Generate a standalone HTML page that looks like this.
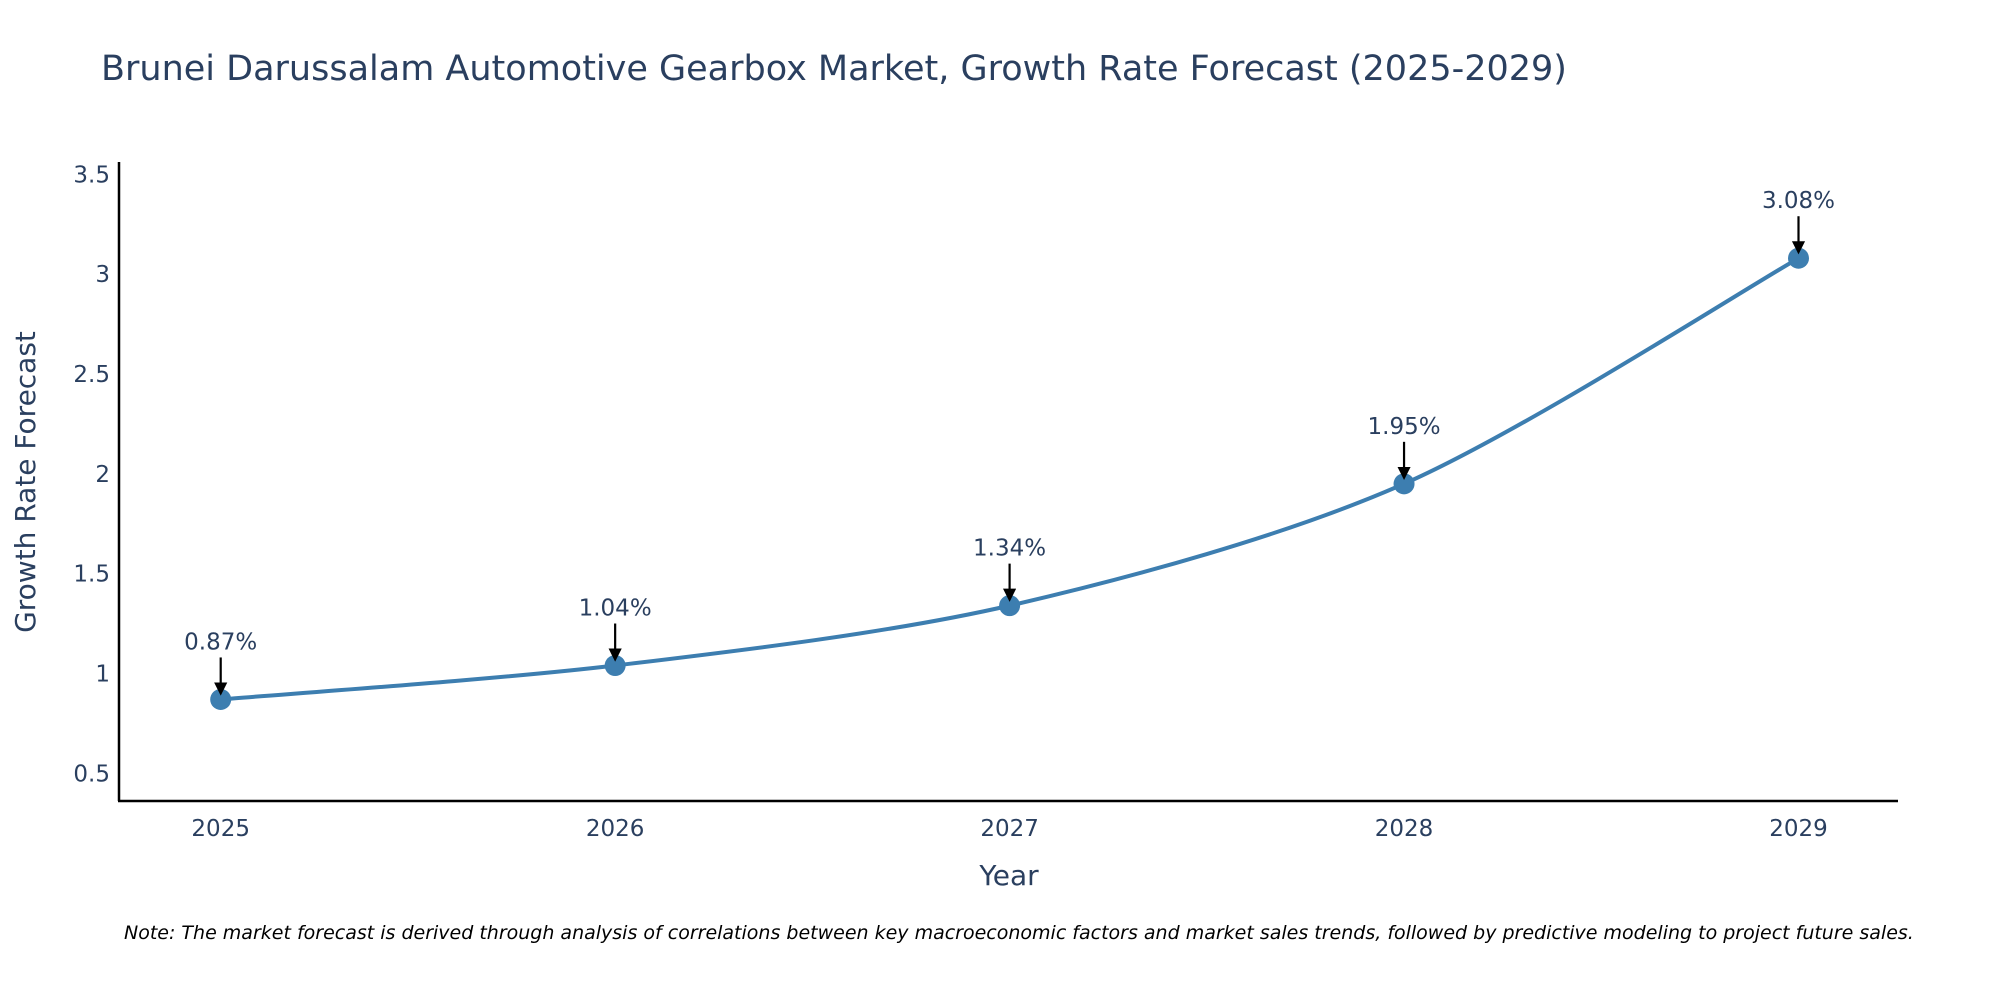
<!DOCTYPE html>
<html><head><meta charset="utf-8"><style>
html,body{margin:0;padding:0;background:#fff;}
svg{display:block;font-family:"DejaVu Sans","Liberation Sans",sans-serif;}
</style></head><body>
<svg id="chart" width="2000" height="1000" viewBox="0 0 2000 1000">
<defs><marker id="ah" markerWidth="6" markerHeight="6" refX="5" refY="3" orient="auto" markerUnits="strokeWidth"><path d="M0,0 L6,3 L0,6 z" fill="#000"/></marker></defs>
<text x="101" y="80" font-size="35" fill="#2a3f5f">Brunei Darussalam Automotive Gearbox Market, Growth Rate Forecast (2025-2029)</text>
<g id="yticks"></g><g id="xticks"></g>
<line x1="119" y1="162" x2="119" y2="801" stroke="#000" stroke-width="2.5"/>
<line x1="118" y1="801" x2="1898" y2="801" stroke="#000" stroke-width="2.5"/>
<text transform="translate(35,482) rotate(-90)" text-anchor="middle" font-size="28" fill="#2a3f5f">Growth Rate Forecast</text>
<text x="1009" y="885" text-anchor="middle" font-size="28" fill="#2a3f5f">Year</text>
<g id="series"></g>
<text x="124" y="939" font-size="19" font-style="italic" fill="#000">Note: The market forecast is derived through analysis of correlations between key macroeconomic factors and market sales trends, followed by predictive modeling to project future sales.</text>
</svg>
<script>
const years = [2025, 2026, 2027, 2028, 2029];
const growth = [0.87, 1.04, 1.34, 1.95, 3.08];
const labels = ["0.87%", "1.04%", "1.34%", "1.95%", "3.08%"];
const yTicks = [0.5, 1, 1.5, 2, 2.5, 3, 3.5];
const NS = "http://www.w3.org/2000/svg";
const xS = v => 220.7 + (v - 2025) * (1798.5 - 220.7) / 4;
const yS = v => 673.5 - (v - 1) * 199.65;
function mk(tag, attrs, parent){const e=document.createElementNS(NS,tag);for(const k in attrs)e.setAttribute(k,attrs[k]);parent.appendChild(e);return e;}
const yt=document.getElementById('yticks');
yTicks.forEach(t=>{const e=mk('text',{x:110,y:yS(t)+8,'text-anchor':'end','font-size':23,fill:'#2a3f5f'},yt);


e.textContent=String(t);});
const xt=document.getElementById('xticks');
years.forEach(t=>{const e=mk('text',{x:xS(t),y:836,'text-anchor':'middle','font-size':23,fill:'#2a3f5f'},xt);


e.textContent=String(t);});
const g=document.getElementById('series');
const pts=years.map((y,i)=>[xS(y),yS(growth[i])]);
let d='M'+pts[0][0]+','+pts[0][1];
const s=0.45/3;
for(let i=0;i<pts.length-1;i++){const p0=pts[Math.max(0,i-1)],p1=pts[i],p2=pts[i+1],p3=pts[Math.min(pts.length-1,i+2)];
d+=' C'+(p1[0]+(p2[0]-p0[0])*s)+','+(p1[1]+(p2[1]-p0[1])*s)+' '+(p2[0]-(p3[0]-p1[0])*s)+','+(p2[1]-(p3[1]-p1[1])*s)+' '+p2[0]+','+p2[1];}
const line=mk('path',{d:d,fill:'none',stroke:'#3d7eb0','stroke-width':4},g);


pts.forEach((p,i)=>{
const c=mk('circle',{cx:p[0],cy:p[1],r:10.5,fill:'#3d7eb0'},g);


const a=mk('line',{x1:p[0],y1:p[1]-42,x2:p[0],y2:p[1]-6,stroke:'#000','stroke-width':2.2,'marker-end':'url(#ah)'},g);


const t=mk('text',{x:p[0],y:p[1]-50,'text-anchor':'middle','font-size':23,fill:'#2a3f5f'},g);


t.textContent=labels[i];});
</script>
</body></html>
